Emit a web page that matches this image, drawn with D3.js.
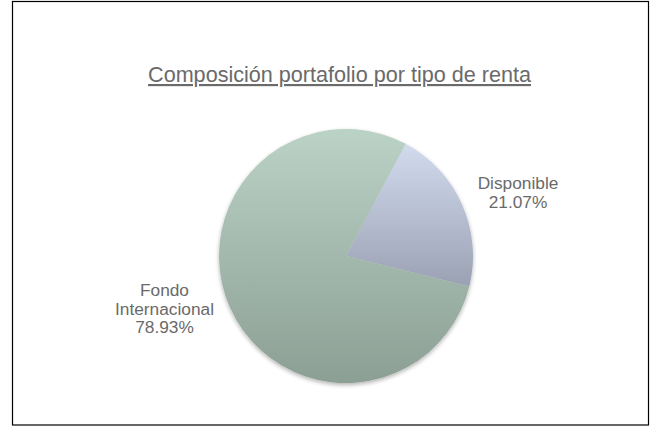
<!DOCTYPE html>
<html><head><meta charset="utf-8">
<script src="https://cdn.jsdelivr.net/npm/d3@7"></script>
<style>body{margin:0;background:#fff}svg{display:block}</style>
</head><body>
<script>
const title = "Composición portafolio por tipo de renta";
const categories = ["Disponible", "Fondo Internacional"];
const values = [21.07, 78.93];
const labelLines = [["Disponible", "21.07%"], ["Fondo", "Internacional", "78.93%"]];
const colorsTop = ["#d2dbee", "#bbd2c6"];
const colorsBottom = ["#9aa1b3", "#8c9f94"];

const W = 655, H = 427;
const svg = d3.select("body").append("svg").attr("width", W).attr("height", H);
svg.append("rect").attr("x", 12.5).attr("y", 1.5).attr("width", 636).attr("height", 423.5)
  .attr("fill", "#fff").attr("stroke", "#000").attr("stroke-width", 1.2);

svg.append("text").attr("x", 339.5).attr("y", 82).attr("text-anchor", "middle")
  .attr("font-family", "'Liberation Sans', Arial, sans-serif").attr("font-size", 21.6)
  .attr("fill", "#6a6a6a").attr("text-decoration", "underline").text(title);

const cx = 346, cy = 256, r = 127;
const defs = svg.append("defs");
categories.forEach((c, i) => {
  const g = defs.append("linearGradient").attr("id", "g" + i)
    .attr("x1", 0).attr("y1", 0).attr("x2", 0).attr("y2", 1);
  g.append("stop").attr("offset", "0%").attr("stop-color", colorsTop[i]);
  g.append("stop").attr("offset", "100%").attr("stop-color", colorsBottom[i]);
});
const f = defs.append("filter").attr("id", "sh").attr("x", "-10%").attr("y", "-10%").attr("width", "120%").attr("height", "130%");
f.append("feGaussianBlur").attr("in", "SourceAlpha").attr("stdDeviation", 2);
f.append("feOffset").attr("dy", 2).attr("result", "b");
f.append("feComponentTransfer").append("feFuncA").attr("type", "linear").attr("slope", 0.3);
const m = f.append("feMerge"); m.append("feMergeNode"); m.append("feMergeNode").attr("in", "SourceGraphic");

const startDeg = 28;
const pie = d3.pie().sort(null).value(d => d)
  .startAngle(startDeg * Math.PI / 180).endAngle(startDeg * Math.PI / 180 + 2 * Math.PI);
const arc = d3.arc().innerRadius(0).outerRadius(r);
const arcs = pie(values);
const gp = svg.append("g").attr("transform", `translate(${cx},${cy})`).attr("filter", "url(#sh)");
gp.selectAll("path").data(arcs).enter().append("path")
  .attr("d", arc).attr("fill", (d, i) => `url(#g${i})`);

const labelPos = [[518, 189], [164.5, 296]];
const lineGap = [19, 18.5];
labelLines.forEach((lines, i) => {
  const t = svg.append("text").attr("text-anchor", "middle")
    .attr("font-family", "'Liberation Sans', Arial, sans-serif").attr("font-size", 17.3)
    .attr("fill", "#6a6a6a");
  lines.forEach((s, j) => {
    t.append("tspan").attr("x", labelPos[i][0]).attr("y", labelPos[i][1] + j * lineGap[i]).text(s);
  });
});
</script>
</body></html>
